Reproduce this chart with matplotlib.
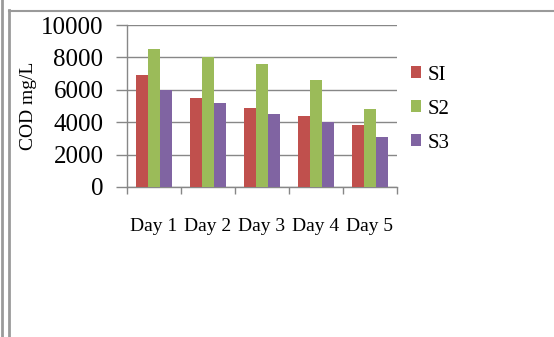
import numpy as np
import matplotlib
matplotlib.use("Agg")
import matplotlib.pyplot as plt
from matplotlib.lines import Line2D

plt.rcParams['font.family'] = ['Liberation Serif', 'DejaVu Serif']

# COD readings per sampling day
days = ["Day 1", "Day 2", "Day 3", "Day 4", "Day 5"]
s1 = [6900, 5500, 4900, 4400, 3800]
s2 = [8500, 8000, 7600, 6600, 4800]
s3 = [6000, 5200, 4500, 4000, 3100]
series_names = ["SI", "S2", "S3"]
colors = ["#C0504D", "#9BBB59", "#8064A2"]
grid_col = "#878787"

fig = plt.figure(figsize=(5.54, 3.37), dpi=100)
ax = fig.add_axes([127 / 554, 1 - 187 / 337, 270 / 554, 162 / 337])

x = np.arange(len(days))
w = 0.217
for i, (vals, name, c) in enumerate(zip([s1, s2, s3], series_names, colors)):
    ax.bar(x + (i - 1) * w, vals, width=w, color=c, label=name, zorder=3)

ax.set_xlim(-0.5, len(days) - 0.5)
ax.set_ylim(0, 10000)
ax.set_yticks(np.arange(0, 10001, 2000))
ax.set_xticks(x)
ax.set_xticklabels(days, fontsize=14)
ax.set_xticks(np.arange(-0.5, len(days), 1), minor=True)
ax.tick_params(axis='x', which='major', length=0, pad=22)
ax.tick_params(axis='x', which='minor', length=5, color=grid_col, width=1)
ax.tick_params(axis='y', length=8, color=grid_col, width=1, labelsize=18, pad=9)
ax.yaxis.grid(True, color=grid_col, linewidth=1, zorder=0)
ax.set_axisbelow(True)

for side in ["top", "right"]:
    ax.spines[side].set_visible(False)
for side in ["left", "bottom"]:
    ax.spines[side].set_color(grid_col)
    ax.spines[side].set_linewidth(1)

ax.set_ylabel("COD mg/L", fontsize=14, labelpad=3)

ax.legend(loc='center left', bbox_to_anchor=(1.02, 0.48), frameon=False,
          fontsize=15, handlelength=0.5, handleheight=0.5, handletextpad=0.3,
          labelspacing=0.72, borderaxespad=0)

# page frame lines
fig.add_artist(Line2D([2 / 554, 2 / 554], [0, 1], color="#9a9a9a", lw=2))
fig.add_artist(Line2D([9 / 554, 9 / 554], [0, 1 - 10 / 337], color="#9a9a9a", lw=2))
fig.add_artist(Line2D([9 / 554, 1], [1 - 11 / 337, 1 - 11 / 337], color="#9a9a9a", lw=1.5))

fig.savefig("out.png", dpi=100)
